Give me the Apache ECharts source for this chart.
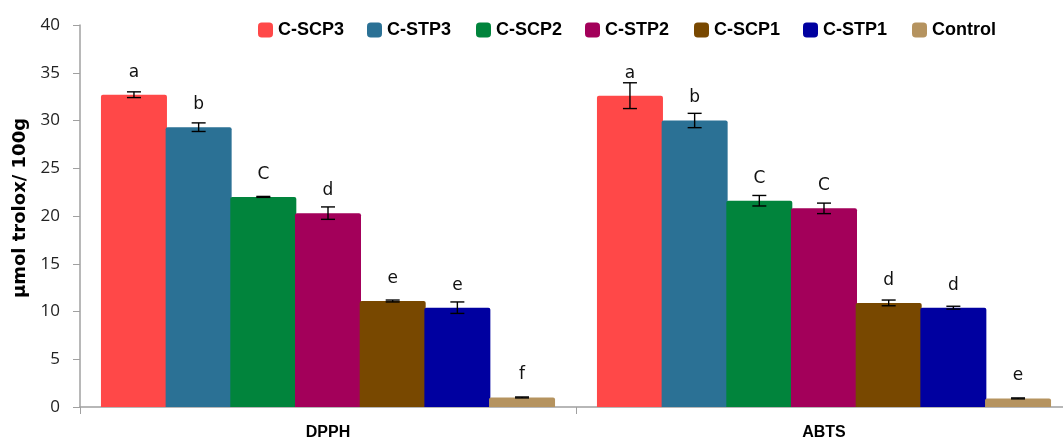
<!DOCTYPE html>
<html>
<head>
<meta charset="utf-8">
<script src="https://cdn.jsdelivr.net/npm/echarts@6/dist/echarts.min.js"></script>
<style>
  html, body { margin: 0; padding: 0; background: #fff; }
  #chart { width: 1063px; height: 442px; }
</style>
</head>
<body>
<div id="chart"></div>
<script>
// Assays on the category axis
const categories = ['DPPH', 'ABTS'];

// Antioxidant capacity (µmol trolox / 100 g), one entry per assay: [DPPH, ABTS]
const seriesNames = ['C-SCP3', 'C-STP3', 'C-SCP2', 'C-STP2', 'C-SCP1', 'C-STP1', 'Control'];
const scp3 = [32.7, 32.6];
const stp3 = [29.3, 30.0];
const scp2 = [22.0, 21.6];
const stp2 = [20.3, 20.8];
const scp1 = [11.1, 10.9];
const stp1 = [10.4, 10.4];
const control = [1.0, 0.9];

// Standard deviations
const scp3Err = [0.3, 1.35];
const stp3Err = [0.45, 0.75];
const scp2Err = [0.05, 0.55];
const stp2Err = [0.65, 0.55];
const scp1Err = [0.1, 0.3];
const stp1Err = [0.6, 0.15];
const controlErr = [0.05, 0.05];

// Significance letters
const scp3Sig = ['a', 'a'];
const stp3Sig = ['b', 'b'];
const scp2Sig = ['C', 'C'];
const stp2Sig = ['d', 'C'];
const scp1Sig = ['e', 'd'];
const stp1Sig = ['e', 'd'];
const controlSig = ['f', 'e'];

// Y axis ticks
const yMin = 0, yMax = 40, yStep = 5;

const values = [scp3, stp3, scp2, stp2, scp1, stp1, control];
const errors = [scp3Err, stp3Err, scp2Err, stp2Err, scp1Err, stp1Err, controlErr];
const letters = [scp3Sig, stp3Sig, scp2Sig, stp2Sig, scp1Sig, stp1Sig, controlSig];
const colors = ['#FF4848', '#2B7195', '#01843C', '#A3005A', '#784800', '#0000A0', '#B5935F'];

const BAR_W = 66;
const BAR_GAP = -0.02;
const STEP = BAR_W * (1 + BAR_GAP);
const n = seriesNames.length;

const series = [];
seriesNames.forEach(function (name, i) {
  series.push({
    name: name,
    type: 'bar',
    data: values[i],
    barWidth: BAR_W,
    barGap: (BAR_GAP * 100) + '%',
    itemStyle: { color: colors[i], borderRadius: [2, 2, 0, 0] },
    label: {
      show: true,
      position: 'top',
      distance: 14,
      fontFamily: 'DejaVu Sans',
      fontSize: 17,
      color: '#111',
      formatter: function (p) { return letters[i][p.dataIndex]; }
    },
    z: 2
  });
});

// Error bars drawn over each bar
seriesNames.forEach(function (name, i) {
  series.push({
    type: 'custom',
    name: name + ' sd',
    data: values[i].map(function (v, k) { return [k, v, errors[i][k]]; }),
    silent: true,
    z: 5,
    renderItem: function (params, api) {
      const k = api.value(0);
      const v = api.value(1);
      const e = api.value(2);
      const c = api.coord([k, v]);
      const x = c[0] + (i - (n - 1) / 2) * STEP;
      const yHi = api.coord([k, v + e])[1];
      const yLo = api.coord([k, v - e])[1];
      const half = 7;
      const style = { stroke: '#000', lineWidth: 1.4 };
      return {
        type: 'group',
        children: [
          { type: 'line', shape: { x1: x, y1: yHi, x2: x, y2: yLo }, style: style },
          { type: 'line', shape: { x1: x - half, y1: yHi, x2: x + half, y2: yHi }, style: style },
          { type: 'line', shape: { x1: x - half, y1: yLo, x2: x + half, y2: yLo }, style: style }
        ]
      };
    }
  });
});

// One legend entry per block, evenly spaced along the top
const LEGEND_LEFT = 258;
const LEGEND_STEP = 109;
const legends = seriesNames.map(function (name, i) {
  return {
    data: [name],
    left: LEGEND_LEFT + i * LEGEND_STEP,
    top: 21,
    padding: 0,
    icon: 'roundRect',
    itemWidth: 15,
    itemHeight: 15,
    textStyle: {
      fontFamily: 'Liberation Sans',
      fontWeight: 'bold',
      fontSize: 18,
      color: '#000'
    }
  };
});

const chart = echarts.init(document.getElementById('chart'), null, { renderer: 'canvas' });
chart.setOption({
  animation: false,
  backgroundColor: '#fff',
  grid: { left: 80, top: 25, width: 992, bottom: 35, containLabel: false, outerBoundsMode: 'none' },
  legend: legends,
  xAxis: {
    type: 'category',
    data: categories,
    axisLine: { lineStyle: { color: '#A0A0A0', width: 1.5 } },
    axisTick: { show: true, length: 7, lineStyle: { color: '#A0A0A0' } },
    axisLabel: {
      margin: 18,
      fontFamily: 'Liberation Sans',
      fontWeight: 'bold',
      fontSize: 16,
      color: '#000'
    }
  },
  yAxis: {
    type: 'value',
    min: yMin,
    max: yMax,
    interval: yStep,
    name: 'µmol trolox/ 100g',
    nameLocation: 'middle',
    nameGap: 50,
    nameTextStyle: {
      fontFamily: 'DejaVu Sans',
      fontWeight: 'bold',
      fontSize: 18,
      color: '#000',
      padding: [0, 0, 0, 16]
    },
    axisLine: { show: true, lineStyle: { color: '#A0A0A0', width: 1.5 } },
    axisTick: { show: true, length: 7, lineStyle: { color: '#A0A0A0' } },
    splitLine: { show: false },
    axisLabel: {
      margin: 20,
      fontFamily: 'Open Sans',
      fontSize: 17,
      color: '#222'
    }
  },
  series: series
});
</script>
</body>
</html>
